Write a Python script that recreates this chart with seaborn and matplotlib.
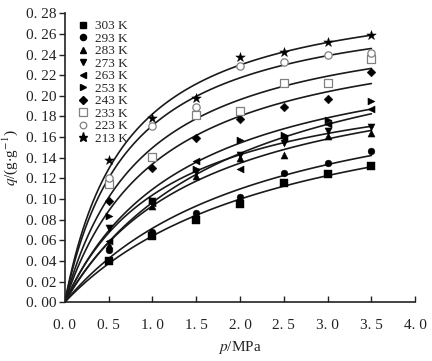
import matplotlib
matplotlib.use('Agg')
import matplotlib.pyplot as plt
import seaborn as sns
import numpy as np
import pandas as pd
from matplotlib.lines import Line2D
from matplotlib.ticker import FuncFormatter, MultipleLocator

sns.set_style('ticks')
plt.rcParams['font.family'] = ['Liberation Serif', 'DejaVu Serif']
plt.rcParams['mathtext.fontset'] = 'stix'

# pressure points (MPa)
pressure = [0.5, 1.0, 1.5, 2.0, 2.5, 3.0, 3.5]

# adsorption capacity q (g/g), one list per temperature
temps = ['303 K', '293 K', '283 K', '273 K', '263 K',
         '253 K', '243 K', '233 K', '223 K', '213 K']
q_303 = [0.040, 0.064, 0.080, 0.095, 0.116, 0.124, 0.132]
q_293 = [0.051, 0.068, 0.086, 0.102, 0.125, 0.135, 0.147]
q_283 = [0.055, 0.093, 0.122, 0.140, 0.143, 0.161, 0.164]
q_273 = [0.072, 0.098, 0.126, 0.143, 0.154, 0.166, 0.170]
q_263 = [0.059, 0.096, 0.137, 0.129, 0.159, 0.173, 0.187]
q_253 = [0.084, 0.099, 0.129, 0.157, 0.162, 0.177, 0.195]
q_243 = [0.098, 0.130, 0.159, 0.178, 0.189, 0.197, 0.223]
q_233 = [0.115, 0.141, 0.181, 0.185, 0.212, 0.212, 0.236]
q_223 = [0.120, 0.171, 0.189, 0.229, 0.233, 0.240, 0.242]
q_213 = [0.138, 0.179, 0.198, 0.238, 0.243, 0.252, 0.259]
series = [q_303, q_293, q_283, q_273, q_263, q_253, q_243, q_233, q_223, q_213]

markers = ['s', 'o', '^', 'v', '<', '>', 'D', 's', 'o', '*']
filled = [True, True, True, True, True, True, True, False, False, True]
sizes = [28, 24, 26, 26, 26, 26, 20, 32, 28, 52]

rows = []
for t, q in zip(temps, series):
    for p, v in zip(pressure, q):
        rows.append({'T': t, 'p': p, 'q': v})
df = pd.DataFrame(rows)

fig = plt.figure(figsize=(4.32, 3.61), dpi=100)
ax = fig.add_axes([0.150, 0.163, 0.811, 0.800])

# Langmuir fit of each isotherm (p/q = 1/(qm*b) + p/qm), drawn from the origin
p_line = np.linspace(0, 3.5, 120)
for t in temps:
    d = df[df['T'] == t]
    slope, icpt = np.polyfit(d['p'], d['p'] / d['q'], 1)
    qm, b = 1 / slope, slope / icpt
    ax.plot(p_line, qm * b * p_line / (1 + b * p_line), color='#1a1a1a', lw=1.2)

handles = []
for t, m, f, s in zip(temps, markers, filled, sizes):
    d = df[df['T'] == t]
    if f:
        sns.scatterplot(data=d, x='p', y='q', marker=m, s=s, color='black',
                        edgecolor='black', linewidth=0.3, ax=ax, zorder=3)
        handles.append(Line2D([], [], ls='', marker=m, color='black',
                              markersize=np.sqrt(s) * 0.9))
    else:
        sns.scatterplot(data=d, x='p', y='q', marker=m, s=s, facecolor='white',
                        edgecolor='#808080', linewidth=0.9, ax=ax, zorder=3)
        handles.append(Line2D([], [], ls='', marker=m, markerfacecolor='white',
                              markeredgecolor='#808080', markeredgewidth=0.9,
                              markersize=np.sqrt(s) * 0.9))

ax.set_xlim(0, 4.0)
ax.set_ylim(0, 0.28)
ax.xaxis.set_major_locator(MultipleLocator(0.5))
ax.yaxis.set_major_locator(MultipleLocator(0.02))
ax.xaxis.set_major_formatter(FuncFormatter(lambda v, _: f'{v:.1f}'.replace('.', '. ')))
ax.yaxis.set_major_formatter(FuncFormatter(lambda v, _: f'{v:.2f}'.replace('.', '. ')))
ax.tick_params(axis='x', direction='in', length=4, width=1, labelsize=11, pad=12, colors='#222222')
ax.tick_params(axis='y', direction='out', length=4, width=1, labelsize=11, pad=2, colors='#222222')
for sp in ['top', 'right']:
    ax.spines[sp].set_visible(False)
for sp in ['left', 'bottom']:
    ax.spines[sp].set_linewidth(1.2)
    ax.spines[sp].set_color('#222222')

ax.set_xlabel(r'$p$/MPa', fontsize=11, labelpad=5, color='#222222')
ax.set_ylabel(r'$q$/(g$\cdot$g$^{-1}$)', fontsize=11, labelpad=4, color='#222222')

ax.legend(handles, temps, loc='upper left', bbox_to_anchor=(0.015, 1.0),
          frameon=False, fontsize=9.5, handletextpad=0.4, labelspacing=0.02,
          handlelength=1.0, borderaxespad=0.1)

fig.savefig('out.png', dpi=100)
